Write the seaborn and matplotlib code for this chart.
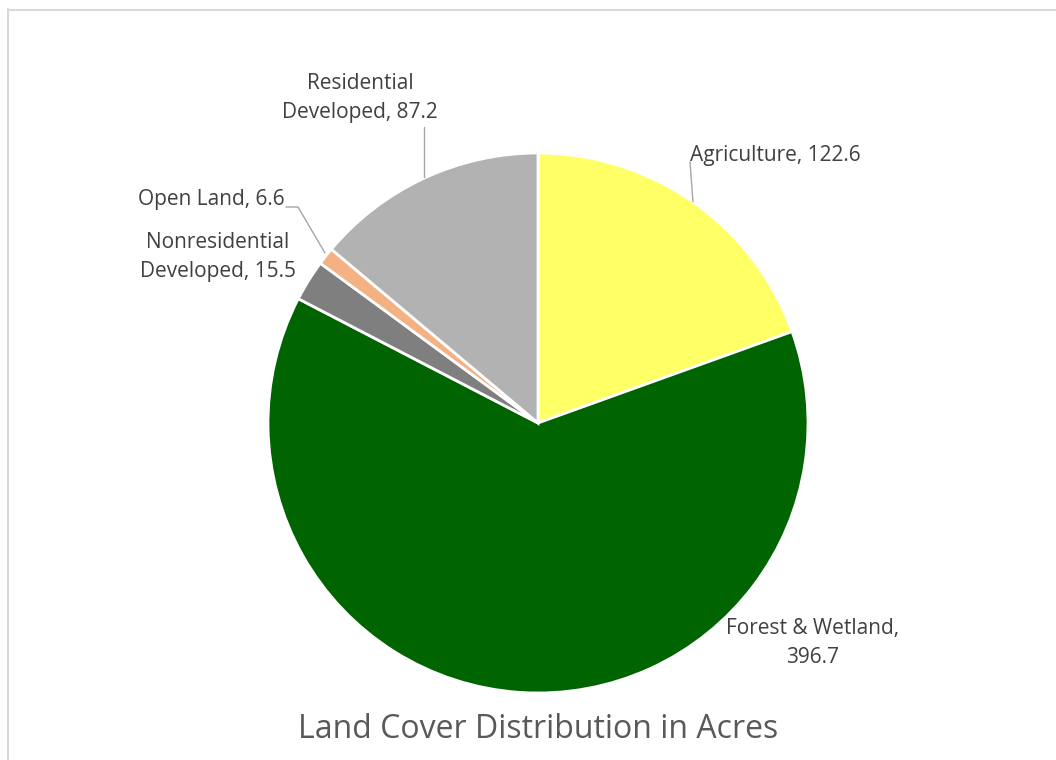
import matplotlib
matplotlib.use("Agg")
import matplotlib.pyplot as plt
import seaborn as sns
from matplotlib.lines import Line2D

sns.set_style("white")
plt.rcParams['font.family'] = ['Open Sans', 'DejaVu Sans']

categories = ["Agriculture", "Forest & Wetland", "Nonresidential\nDeveloped", "Open Land", "Residential\nDeveloped"]
values = [122.6, 396.7, 15.5, 6.6, 87.2]
colors = sns.color_palette(["#FFFF66", "#006400", "#7F7F7F", "#F4B183", "#B2B2B2"])

W, H = 1056, 760
fig = plt.figure(figsize=(W / 100, H / 100), dpi=100)
fig.patch.set_facecolor("white")

cx, cy, r = 538, 423, 270
ax = fig.add_axes([(cx - r) / W, (H - cy - r) / H, 2 * r / W, 2 * r / H])
wedges, _ = ax.pie(values, colors=colors, startangle=90, counterclock=False,
                   wedgeprops=dict(edgecolor="white", linewidth=2))
ax.set_xlim(-1, 1)
ax.set_ylim(-1, 1)
ax.set_aspect("equal")
ax.axis("off")


def d(px, py):
    return ((px - cx) / r, (cy - py) / r)


label_color = "#404040"
fs = 15
ls = 1.5
labels = [f"{c}, {v}" for c, v in zip(categories, values)]

# Agriculture
ax.text(*d(690, 155), labels[0], ha="left", va="center", fontsize=fs, color=label_color)
ax.plot(*zip(d(693, 202), d(690, 162)), color="#A6A6A6", lw=1, clip_on=False)
# Forest & Wetland
ax.text(*d(813, 643), "Forest & Wetland,\n396.7", ha="center", va="center",
        fontsize=fs, color=label_color, linespacing=ls)
# Nonresidential
ax.text(*d(218, 257), "Nonresidential\nDeveloped, 15.5", ha="center", va="center",
        fontsize=fs, color=label_color, linespacing=ls)
# Open Land
ax.text(*d(285, 200), labels[3], ha="right", va="center", fontsize=fs, color=label_color)
ax.plot(*zip(d(286, 207), d(298, 207), d(325, 253)), color="#A6A6A6", lw=1, clip_on=False)
# Residential
ax.text(*d(360, 98), "Residential\nDeveloped, 87.2", ha="center", va="center",
        fontsize=fs, color=label_color, linespacing=ls)
ax.plot(*zip(d(424, 127), d(424, 177)), color="#A6A6A6", lw=1, clip_on=False)

fig.text(cx / W, 1 - 730 / H, "Land Cover Distribution in Acres", ha="center", va="center",
         fontsize=23, color="#595959")

# outer frame (extends past right/bottom)
fig.add_artist(Line2D([8 / W, 8 / W], [0, 1 - 9 / H], transform=fig.transFigure, color="#D9D9D9", lw=1.5))
fig.add_artist(Line2D([8 / W, 1], [1 - 10 / H, 1 - 10 / H], transform=fig.transFigure, color="#D9D9D9", lw=1.5))

fig.savefig("out.png", dpi=100, facecolor="white")
